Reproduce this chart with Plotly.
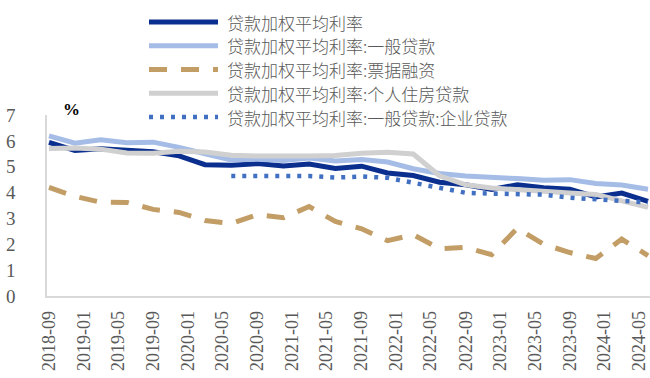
import plotly.graph_objects as go

# Quarterly observations (month of quarter end)
months = ["2018-09", "2018-12", "2019-03", "2019-06", "2019-09", "2019-12",
          "2020-03", "2020-06", "2020-09", "2020-12", "2021-03", "2021-06",
          "2021-09", "2021-12", "2022-03", "2022-06", "2022-09", "2022-12",
          "2023-03", "2023-06", "2023-09", "2023-12", "2024-03", "2024-06"]

rate_all = [5.94, 5.63, 5.69, 5.64, 5.58, 5.42, 5.08, 5.06, 5.12, 5.03, 5.10, 4.93,
            5.02, 4.76, 4.66, 4.40, 4.30, 4.12, 4.30, 4.19, 4.13, 3.83, 3.98, 3.66]
rate_general = [6.19, 5.91, 6.04, 5.93, 5.95, 5.75, 5.50, 5.26, 5.29, 5.24, 5.34, 5.22,
                5.28, 5.18, 4.92, 4.74, 4.64, 4.57, 4.54, 4.48, 4.50, 4.35, 4.29, 4.13]
rate_bill = [4.20, 3.85, 3.63, 3.62, 3.35, 3.23, 2.92, 2.80, 3.15, 3.03, 3.46, 2.88,
             2.60, 2.14, 2.37, 1.83, 1.88, 1.60, 2.62, 2.00, 1.68, 1.45, 2.20, 1.56]
rate_mortgage = [5.70, 5.72, 5.68, 5.53, 5.52, 5.60, 5.57, 5.44, 5.41, 5.40, 5.41, 5.43,
                 5.52, 5.56, 5.49, 4.65, 4.30, 4.18, 4.10, 4.02, 3.98, 3.93, 3.70, 3.43]
rate_corporate = [None] * 7 + [4.64, 4.63, 4.61, 4.64, 4.58, 4.62, 4.57, 4.38, 4.16,
                               3.99, 3.96, 3.95, 3.92, 3.80, 3.75, 3.71, 3.62]

tick_labels = ["2018-09", "2019-01", "2019-05", "2019-09", "2020-01", "2020-05",
               "2020-09", "2021-01", "2021-05", "2021-09", "2022-01", "2022-05",
               "2022-09", "2023-01", "2023-05", "2023-09", "2024-01", "2024-05"]

series_names = ["贷款加权平均利率", "贷款加权平均利率:一般贷款", "贷款加权平均利率:票据融资",
                "贷款加权平均利率:个人住房贷款", "贷款加权平均利率:一般贷款:企业贷款"]
series_values = [rate_all, rate_general, rate_bill, rate_mortgage, rate_corporate]
series_colors = ["#0B2F8E", "#A5BDE6", "#C29D66", "#D0D0D0", "#4170C2"]
series_dash = ["solid", "solid", "18px,14px", "solid", "4px,7px"]
series_width = [5, 5, 5, 5, 4.5]

W, H = 650, 378
L, R, T, B = 47, 650, 115, 296

dates = [m + "-01" for m in months]

fig = go.Figure()
for name, vals, col, dash, w in zip(series_names, series_values, series_colors,
                                     series_dash, series_width):
    fig.add_trace(go.Scatter(x=dates, y=vals, mode="lines", name=name,
                             line=dict(color=col, width=w, dash=dash),
                             connectgaps=False, showlegend=False))

serif = "Liberation Serif, Times New Roman, Noto Sans CJK SC, serif"
cjk = "Noto Sans CJK SC, Liberation Serif, sans-serif"


def px_x(px):
    return (px - L) / (R - L)


def px_y(py):
    return (B - py) / (B - T)


# Legend drawn as long line samples with labels
legend_y = [22, 45.75, 69.5, 93.25, 117]
shapes = []
annotations = []
for ly, name, col, dash, w in zip(legend_y, series_names, series_colors,
                                   series_dash, series_width):
    shapes.append(dict(type="line", xref="paper", yref="paper",
                       x0=px_x(149), x1=px_x(218), y0=px_y(ly), y1=px_y(ly),
                       line=dict(color=col, width=w, dash=dash)))
    annotations.append(dict(xref="paper", yref="paper", x=px_x(226), y=px_y(ly),
                            text=name, showarrow=False, xanchor="left",
                            yanchor="middle", borderpad=0,
                            font=dict(family=cjk, size=17, weight=300,
                                      color="#595959")))

annotations.append(dict(xref="paper", yref="paper", x=px_x(71), y=px_y(109),
                        text="<b>%</b>", showarrow=False, xanchor="center",
                        yanchor="middle", borderpad=0,
                        font=dict(family=serif, size=17, color="#000000")))

fig.update_layout(
    width=W, height=H,
    margin=dict(l=L, r=W - R, t=T, b=H - B, pad=0),
    paper_bgcolor="white", plot_bgcolor="white",
    shapes=shapes, annotations=annotations,
    xaxis=dict(
        type="date",
        range=["2018-08-25", "2024-06-08"],
        tickvals=[t + "-01" for t in tick_labels],
        ticktext=tick_labels,
        tickangle=-90,
        tickfont=dict(family=serif, size=18, color="#595959"),
        showgrid=False, zeroline=False,
        showline=True, linecolor="#D9D9D9", linewidth=1.5,
        ticks="", ticklabelstandoff=6,
    ),
    yaxis=dict(
        range=[0, 7], dtick=1, tick0=0,
        tickfont=dict(family=serif, size=19, color="#595959"),
        showgrid=False, zeroline=False,
        showline=True, linecolor="#D9D9D9", linewidth=1.5,
        ticks="", ticklabelstandoff=26,
    ),
)

fig.write_html("out.html")
